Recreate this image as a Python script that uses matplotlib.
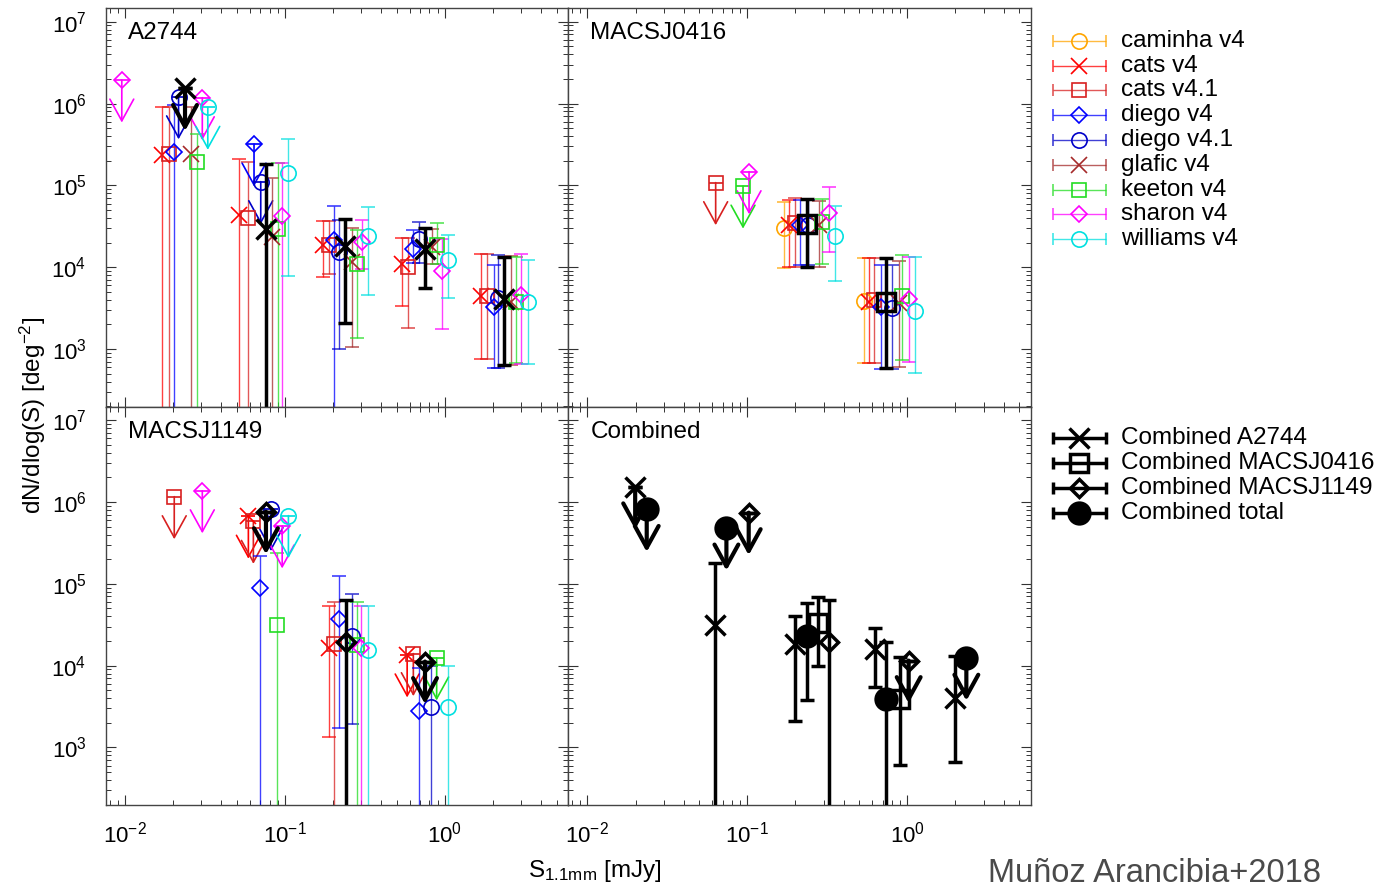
import matplotlib
matplotlib.use("Agg")
import matplotlib.pyplot as plt
from matplotlib.colors import to_rgba
from matplotlib.ticker import LogLocator, LogFormatterSciNotation, NullFormatter

plt.rcParams['font.family'] = ['Liberation Sans', 'DejaVu Sans']
plt.rcParams['mathtext.fontset'] = 'custom'
plt.rcParams['mathtext.rm'] = 'Liberation Sans'
plt.rcParams['mathtext.it'] = 'Liberation Sans:italic'
plt.rcParams['mathtext.bf'] = 'Liberation Sans:bold'

# lens models, in legend order
MODELS = ["caminha v4", "cats v4", "cats v4.1", "diego v4", "diego v4.1",
          "glafic v4", "keeton v4", "sharon v4", "williams v4"]
COLORS = ["#FFA500", "#FF0000", "#D82020", "#0000FF", "#0000C8",
          "#A52A2A", "#22DD22", "#FF00FF", "#00E0E0"]
MARKERS = ["o", "x", "s", "D", "o", "x", "s", "D", "o"]

COMBINED = ["Combined A2744", "Combined MACSJ0416", "Combined MACSJ1149", "Combined total"]
COMB_MARKERS = ["x", "s", "D", "o"]

# points: (S [mJy], dN/dlogS, lower, upper); lower/upper None -> upper limit
A2744 = {
    "cats v4": [(0.0171, 2.34e5, 0, 8.97e5), (0.0518, 4.33e4, 0, 2.08e5), (0.172, 1.86e4, 7.6e3, 3.66e4),
                (0.541, 1.08e4, 3.37e3, 2.25e4), (1.69, 4.47e3, 746, 1.45e4)],
    "cats v4.1": [(0.0187, 2.45e5, 0, 9.1e5), (0.059, 3.95e4, 0, 1.95e5), (0.188, 1.86e4, 8.2e3, 3.66e4),
                  (0.59, 1.01e4, 1.78e3, 2.3e4), (1.82, 4.47e3, 746, 1.45e4)],
    "diego v4": [(0.0202, 2.53e5, 0, 9.6e5), (0.064, 3.2e5, None, None), (0.203, 2.14e4, 0, 5.6e4),
                 (0.634, 1.65e4, 1.11e4, 2.84e4), (2.02, 3.28e3, 580, 1.06e4)],
    "diego v4.1": [(0.0216, 1.21e6, None, None), (0.0705, 1.11e5, None, None), (0.218, 1.52e4, 1.0e3, 3.77e4),
                   (0.688, 2.21e4, 1.11e4, 3.59e4), (2.15, 4.22e3, 580, 1.4e4)],
    "glafic v4": [(0.0258, 2.41e5, 0, 9.0e5), (0.0826, 2.31e4, 0, 1.22e5), (0.261, 1.16e4, 1.06e3, 3.0e4),
                  (0.826, 1.75e4, 1.1e4, 2.9e4), (2.57, 3.78e3, 640, 1.37e4)],
    "keeton v4": [(0.0281, 1.91e5, 0, 4.3e5), (0.09, 2.9e4, 0, 1.9e5), (0.281, 1.08e4, 1.35e3, 2.85e4),
                  (0.895, 1.86e4, 1.1e4, 3.43e4), (2.78, 3.78e3, 667, 1.34e4)],
    "sharon v4": [(0.00954, 1.94e6, None, None), (0.0304, 1.18e6, None, None), (0.0962, 4.2e4, 0, 1.86e5),
                  (0.304, 2.04e4, 9.4e3, 3.77e4), (0.953, 9.0e3, 1.74e3, 2.2e4), (2.98, 4.56e3, 653, 1.44e4)],
    "williams v4": [(0.0329, 9.0e5, None, None), (0.105, 1.4e5, 7.9e3, 3.65e5), (0.329, 2.4e4, 4.6e3, 5.5e4),
                    (1.04, 1.24e4, 4.2e3, 2.5e4), (3.29, 3.78e3, 653, 1.24e4)],
    "Combined A2744": [(0.0237, 1.53e6, None, None), (0.0757, 2.9e4, 0, 1.81e5), (0.237, 1.81e4, 2.1e3, 3.87e4),
                       (0.75, 1.65e4, 5.5e3, 2.98e4), (2.35, 4.08e3, 635, 1.34e4)],
}

MACSJ0416 = {
    "caminha v4": [(0.169, 2.98e4, 9.7e3, 6.2e4), (0.536, 3.85e3, 667, 1.28e4)],
    "cats v4": [(0.182, 3.27e4, 1.01e4, 6.7e4), (0.576, 3.8e3, 667, 1.28e4)],
    "cats v4.1": [(0.0634, 1.08e5, None, None), (0.198, 3.49e4, 1.01e4, 7.1e4), (0.62, 3.96e3, 680, 1.28e4)],
    "diego v4": [(0.214, 3.27e4, 1.06e4, 6.7e4), (0.681, 3.28e3, 562, 1.06e4)],
    "diego v4.1": [(0.241, 3.27e4, 1.06e4, 6.7e4), (0.806, 3.13e3, 562, 1.06e4)],
    "glafic v4": [(0.28, 3.27e4, 1.0e4, 6.5e4), (0.887, 3.6e3, 606, 1.19e4)],
    "keeton v4": [(0.094, 9.8e4, None, None), (0.294, 3.59e4, 1.08e4, 6.9e4), (0.93, 4.43e3, 731, 1.41e4)],
    "sharon v4": [(0.1025, 1.47e5, None, None), (0.324, 4.62e4, 1.54e4, 9.5e4), (1.025, 4.04e3, 698, 1.34e4)],
    "williams v4": [(0.351, 2.42e4, 6.8e3, 5.6e4), (1.11, 2.9e3, 504, 1.34e4)],
    "Combined MACSJ0416": [(0.235, 3.34e4, 1.0e4, 6.9e4), (0.739, 3.78e3, 589, 1.28e4)],
}

MACSJ1149 = {
    "cats v4": [(0.059, 6.7e5, None, None), (0.187, 1.63e4, 1.33e3, 5.4e4), (0.58, 1.35e4, None, None)],
    "cats v4.1": [(0.0203, 1.16e6, None, None), (0.0634, 5.8e5, None, None), (0.203, 1.84e4, 0, 6.0e4),
                  (0.634, 1.4e4, None, None)],
    "diego v4": [(0.0698, 8.8e4, 0, 2.2e5), (0.219, 3.7e4, 1.72e3, 1.24e5), (0.69, 2.8e3, 0, 9.3e3)],
    "diego v4.1": [(0.0817, 8.3e5, None, None), (0.261, 2.3e4, 1.94e3, 7.5e4), (0.818, 3.1e3, 0, 9.8e3)],
    "keeton v4": [(0.0887, 3.1e4, 0, 2.4e5), (0.28, 1.78e4, 0, 6.0e4), (0.887, 1.24e4, None, None)],
    "sharon v4": [(0.0304, 1.37e6, None, None), (0.096, 5.1e5, None, None), (0.30, 1.66e4, 0, 5.4e4)],
    "williams v4": [(0.105, 6.8e5, None, None), (0.329, 1.55e4, 0, 5.4e4), (1.04, 3.1e3, 0, 1.0e4)],
    "Combined MACSJ1149": [(0.076, 7.6e5, None, None), (0.239, 1.93e4, 0, 6.4e4), (0.75, 1.12e4, None, None)],
}

COMBINED_PANEL = {
    "Combined A2744": [(0.0199, 1.53e6, None, None), (0.0625, 3.1e4, 0, 1.78e5), (0.198, 1.82e4, 2.1e3, 4.0e4),
                       (0.625, 1.6e4, 5.4e3, 2.9e4), (1.99, 4.0e3, 655, 1.31e4)],
    "Combined MACSJ0416": [(0.277, 3.35e4, 1.0e4, 6.9e4), (0.895, 3.9e3, 614, 1.26e4)],
    "Combined MACSJ1149": [(0.102, 7.4e5, None, None), (0.323, 1.93e4, 0, 6.4e4), (1.02, 1.15e4, None, None)],
    "Combined total": [(0.0235, 8.1e5, None, None), (0.074, 4.8e5, None, None), (0.235, 2.3e4, 3.8e3, 5.9e4),
                       (0.733, 3.9e3, 0, 1.93e4), (2.34, 1.23e4, None, None)],
}

PANELS = [("A2744", A2744), ("MACSJ0416", MACSJ0416), ("MACSJ1149", MACSJ1149), ("Combined", COMBINED_PANEL)]

ARROW = 10 ** -0.52   # length of the upper-limit arrows (in dex)


def style_for(name):
    if name in MODELS:
        i = MODELS.index(name)
        m = MARKERS[i]
        ms = {"o": 11, "x": 11, "s": 10.5, "D": 8}[m]
        return dict(color=COLORS[i], ecolor=to_rgba(COLORS[i], 0.75), marker=m, ms=ms, mew=1.2,
                    lw=1.0, cap=5, filled=False, z=2)
    i = COMBINED.index(name)
    m = COMB_MARKERS[i]
    ms = {"o": 15, "x": 14, "s": 12.5, "D": 9.5}[m]
    return dict(color="black", ecolor="black", marker=m, ms=ms, mew=2.5, lw=2.5, cap=5,
                filled=(m == "o"), z=3)


def draw_series(ax, pts, st):
    mfc = st["color"] if st["filled"] else "none"
    for S, N, lo, hi in pts:
        if lo is None:
            ax.errorbar([S], [N], yerr=[[0], [0]], fmt=st["marker"], mfc=mfc, mec=st["color"],
                        ms=st["ms"], mew=st["mew"], ecolor=st["ecolor"], elinewidth=st["lw"],
                        capsize=st["cap"], capthick=st["lw"], zorder=st["z"])
            ax.annotate("", xy=(S, N * ARROW), xytext=(S, N),
                        arrowprops=dict(arrowstyle="->,head_length=0.6,head_width=0.33",
                                        color=st["color"], lw=st["lw"] * 1.2, shrinkA=0, shrinkB=0,
                                        mutation_scale=26),
                        zorder=st["z"])
        else:
            ax.errorbar([S], [N], yerr=[[N - lo], [hi - N]], fmt=st["marker"], mfc=mfc,
                        mec=st["color"], ms=st["ms"], mew=st["mew"], ecolor=st["ecolor"],
                        elinewidth=st["lw"], capsize=st["cap"], capthick=st["lw"], zorder=st["z"])


fig = plt.figure(figsize=(13.85, 8.89), dpi=100)
W, H = 1385.0, 889.0
x0, x1, xm = 106.0, 1030.0, 568.3
y0, ym, y1 = 8.3, 406.7, 805.0
boxes = [(x0, y0), (xm, y0), (x0, ym), (xm, ym)]

for k, ((name, data), (bx, by)) in enumerate(zip(PANELS, boxes)):
    ax = fig.add_axes([bx / W, 1 - (by + (ym - y0)) / H, (xm - x0) / W, (ym - y0) / H])
    ax.set_xscale("log")
    ax.set_yscale("log")
    for series, pts in data.items():
        draw_series(ax, pts, style_for(series))
    ax.set_xlim(0.0076, 5.9)
    ax.set_ylim(197, 1.46e7)
    for axis in (ax.xaxis, ax.yaxis):
        axis.set_major_locator(LogLocator(base=10, numticks=15))
        axis.set_minor_locator(LogLocator(base=10, subs=range(2, 10), numticks=15))
        axis.set_minor_formatter(NullFormatter())
        axis.set_major_formatter(LogFormatterSciNotation())
    ax.tick_params(which="both", direction="in", top=True, right=True, labelsize=16, color="#333333")
    ax.tick_params(which="major", length=7, width=0.8)
    ax.tick_params(which="minor", length=3.5, width=0.7)
    ax.tick_params(axis="y", pad=14)
    ax.tick_params(axis="x", pad=12)
    if k % 2 == 1:
        ax.tick_params(labelleft=False)
    if k < 2:
        ax.tick_params(labelbottom=False)
    for sp in ax.spines.values():
        sp.set_color("#444444")
        sp.set_linewidth(1.0)
    ax.text(22 / 462, 1 - 25 / 398, name, transform=ax.transAxes, fontsize=17.5, va="center", ha="left")

# legends and labels drawn in figure pixel space
lax = fig.add_axes([0, 0, 1, 1], facecolor="none")
lax.set_xlim(0, W)
lax.set_ylim(H, 0)
lax.axis("off")

for i, name in enumerate(MODELS):
    st = style_for(name)
    y = 40.7 + i * 24.8
    lax.errorbar([1079], [y], xerr=[[26.5], [26.5]], fmt=st["marker"], mfc="none", mec=st["color"],
                 ms=st["ms"], mew=st["mew"], ecolor=st["ecolor"], elinewidth=st["lw"],
                 capsize=4, capthick=st["lw"])
    lax.text(1121, y, name, fontsize=17.5, va="center", ha="left")

for i, name in enumerate(COMBINED):
    st = style_for(name)
    y = 438.3 + i * 24.8
    mfc = "black" if st["filled"] else "none"
    lax.errorbar([1079], [y], xerr=[[26.5], [26.5]], fmt=st["marker"], mfc=mfc, mec="black",
                 ms=st["ms"], mew=st["mew"], ecolor="black", elinewidth=2.5,
                 capsize=4.5, capthick=2.5)
    lax.text(1121, y, name, fontsize=17.5, va="center", ha="left")

lax.text(33, 415, r"dN/dlog(S) [deg$^{-2}$]", rotation=90, fontsize=17.5, ha="center", va="center")
lax.text(595, 871, r"S$_{1.1\mathrm{mm}}$ [mJy]", fontsize=17.5, ha="center", va="center")
lax.text(988, 882, "Muñoz Arancibia+2018", fontsize=23.5, color="#4a4a4a", ha="left", va="baseline")

fig.savefig("out.png", dpi=100)
